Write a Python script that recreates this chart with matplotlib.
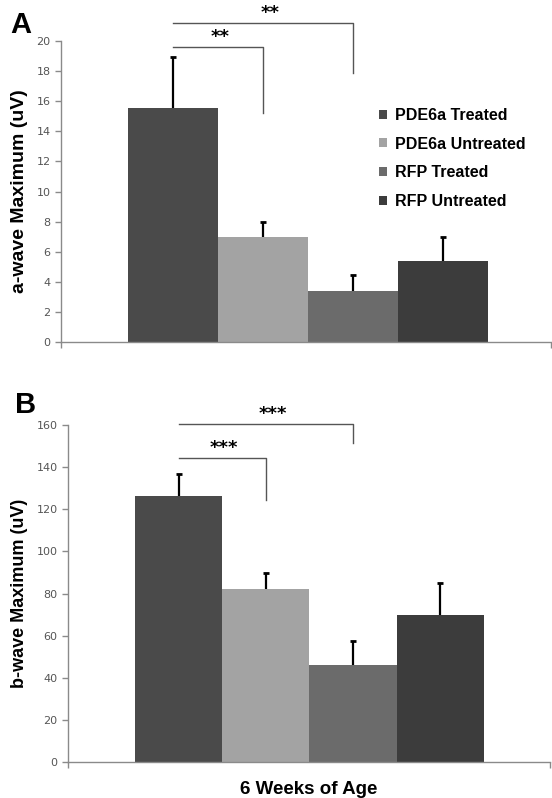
import numpy as np
from matplotlib import pyplot as plt

# groups (one category, four series)
groups = ["PDE6a Treated", "PDE6a Untreated", "RFP Treated", "RFP Untreated"]
colors = ["#4a4a4a", "#a3a3a3", "#6b6b6b", "#3c3c3c"]

a_wave = [15.55, 7.0, 3.4, 5.4]
a_err = [3.4, 0.95, 1.05, 1.6]
b_wave = [126.5, 82.3, 46.1, 69.6]
b_err = [10.2, 7.6, 11.5, 15.5]

# significance brackets: (from bar, to bar, line height, drop end, stars)
a_sig = [(0, 1, 19.62, 15.25, "**"), (0, 2, 21.18, 17.9, "**")]
b_sig = [(0, 1, 144.4, 124.4, "***"), (0, 2, 160.3, 151.6, "***")]

x_label = "6 Weeks of Age"

FONT = "Liberation Sans"


def draw_panel(ax, vals, errs, sig, ylim, ystep, ylabel, ylabel_size, xlim):
    x = np.arange(len(vals))
    ax.bar(x, vals, width=1.0, color=colors, label=groups, zorder=2)
    # upper error bars only
    _, caps, _ = ax.errorbar(x, vals, yerr=[np.zeros(len(errs)), errs],
                             fmt="none", ecolor="black", elinewidth=1.6,
                             capsize=2.5, capthick=2, zorder=3)
    caps[0].set_visible(False)
    ax.set_xlim(*xlim)
    ax.set_ylim(0, ylim)
    ax.set_yticks(np.arange(0, ylim + ystep / 2, ystep))
    ax.set_xticks(list(xlim))
    ax.set_xticklabels(["", ""])
    for s in ["top", "right"]:
        ax.spines[s].set_visible(False)
    for s in ["left", "bottom"]:
        ax.spines[s].set_color("#8a8a8a")
        ax.spines[s].set_linewidth(1.0)
    ax.tick_params(axis="both", colors="#8a8a8a", length=4, width=1,
                   labelcolor="#555555", labelsize=8)
    for lab in ax.get_yticklabels():
        lab.set_family("DejaVu Sans")
    ax.set_ylabel(ylabel, fontsize=ylabel_size, fontweight="bold",
                  family=FONT, labelpad=6)

    # brackets
    span = ylim
    for i, j, h, drop, stars in sig:
        ax.plot([i, j, j], [h, h, drop], color="#555555", lw=1.0,
                clip_on=False, zorder=4)
        ax.text((i + j) / 2.0 + (0.02 if j == 1 else 0.08),
                h + span * 0.004, stars, ha="center", va="bottom",
                fontsize=13, fontweight="bold", family="DejaVu Sans")


fig = plt.figure(figsize=(5.52, 7.98), dpi=100)

ax1 = fig.add_axes([0.1105, 0.5714, 0.8885, 0.3772])
draw_panel(ax1, a_wave, a_err, a_sig, 20, 2, "a-wave Maximum (uV)", 14.0,
           (-1.25, 4.21))

ax2 = fig.add_axes([0.1232, 0.0451, 0.8732, 0.4223])
draw_panel(ax2, b_wave, b_err, b_sig, 160, 20, "b-wave Maximum (uV)", 13.0,
           (-1.27, 4.26))
ax2.set_xlabel(x_label, fontsize=13.5, fontweight="bold", family=FONT,
               labelpad=6)

leg = ax1.legend(loc="upper left", bbox_to_anchor=(379 / 552, 1 - 108 / 798),
                 bbox_transform=fig.transFigure, frameon=False,
                 prop={"family": FONT, "weight": "bold", "size": 11.5},
                 handlelength=0.5, handleheight=0.5, handletextpad=0.5,
                 labelspacing=0.85, borderpad=0, borderaxespad=0)

fig.text(10 / 552, 1 - 33 / 798, "A", fontsize=21, fontweight="bold",
         family=FONT, ha="left", va="baseline")
fig.text(15 / 552, 1 - 413 / 798, "B", fontsize=21, fontweight="bold",
         family=FONT, ha="left", va="baseline")

fig.savefig("out.png", dpi=100)
